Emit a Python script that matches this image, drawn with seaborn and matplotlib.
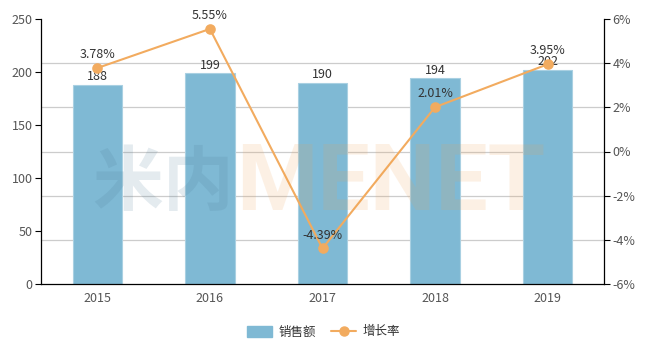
import numpy as np
import pandas as pd
import matplotlib
matplotlib.use("Agg")
import matplotlib.pyplot as plt
import seaborn as sns
from matplotlib.patches import Patch
from matplotlib.lines import Line2D
from matplotlib.ticker import FuncFormatter

years = ["2015", "2016", "2017", "2018", "2019"]
sales = [188, 199, 190, 194, 202]
growth = [3.78, 5.55, -4.39, 2.01, 3.95]
sales_name = "销售额"
growth_name = "增长率"

sns.set_theme(style="white")
plt.rcParams['font.family'] = ['Noto Sans CJK SC', 'DejaVu Sans']

bar_color = "#7fb9d4"
line_color = "#f2ab5f"
text_color = "#333333"
tick_color = "#555555"

df = pd.DataFrame({"year": years, "sales": sales, "growth": growth})

fig = plt.figure(figsize=(6.47, 3.45), dpi=100)
ax = fig.add_axes([41/647, 61/345, 563/647, 265/345])

sns.barplot(data=df, x="year", y="sales", color=bar_color, width=0.44,
            saturation=1, edgecolor="#a9d0e2", linewidth=0.8, ax=ax)
ax.set_xlim(-0.5, 4.5)
ax.set_ylim(0, 250)
ax.set_yticks(np.arange(0, 251, 50))
ax.set_yticks(np.linspace(0, 250, 7), minor=True)
ax.grid(False)
ax.grid(which='minor', axis='y', color='#cccccc', linewidth=0.9)
ax.set_axisbelow(True)
ax.set_xlabel("")
ax.set_ylabel("")
ax.set_xticks(np.arange(-0.5, 5, 1.0), minor=True)
ax.tick_params(axis='x', which='major', length=0, labelsize=9, labelcolor=tick_color, pad=6)
ax.tick_params(axis='x', which='minor', length=4, color='black', width=0.8, direction='out')
ax.tick_params(axis='y', which='major', length=4, color='black', width=0.8, direction='out',
               labelsize=9, labelcolor=tick_color, pad=2, left=True)
ax.tick_params(axis='y', which='minor', length=0)
for s in ["top", "right"]:
    ax.spines[s].set_visible(False)
for s in ["left", "bottom"]:
    ax.spines[s].set_color("black")
    ax.spines[s].set_linewidth(0.9)

for c in ax.containers:
    ax.bar_label(c, labels=[str(v) for v in sales], padding=1, fontsize=9, color=text_color)

ax2 = ax.twinx()
sns.pointplot(data=df, x="year", y="growth", color=line_color, markers='o',
              markersize=6.5, linewidth=1.5, ax=ax2)
ax2.set_ylim(-6, 6)
ax2.set_yticks(np.arange(-6, 7, 2))
ax2.yaxis.set_major_formatter(FuncFormatter(lambda v, p: f"{int(v)}%"))
ax2.set_xlim(-0.5, 4.5)
ax2.set_ylabel("")
ax2.grid(False)
ax2.tick_params(axis='y', length=4, color='black', width=0.8, direction='out',
                labelsize=9, labelcolor=tick_color, pad=2, right=True)
for s in ["top", "left", "bottom"]:
    ax2.spines[s].set_visible(False)
ax2.spines["right"].set_color("black")
ax2.spines["right"].set_linewidth(0.9)

for i, g in enumerate(growth):
    ax2.annotate(f"{g:.2f}%", (i, g), xytext=(0, 5), textcoords="offset points",
                 ha="center", va="bottom", fontsize=9, color=text_color)

# watermark
fig.text(234/647, (345-205)/345, "米内", fontsize=51, fontweight="heavy",
         color="#4a7a96", alpha=0.15, ha="right", va="baseline",
         family=['Noto Sans CJK SC'])
fig.text(236/647, (345-210)/345, "MENET", fontsize=67, fontweight="bold",
         color="#f0a050", alpha=0.15, ha="left", va="baseline",
         family=['Roboto'])

handles = [Patch(facecolor=bar_color, edgecolor=bar_color, label=sales_name),
           Line2D([0], [0], color=line_color, marker='o', markersize=6.5,
                  linewidth=1.5, label=growth_name)]
fig.legend(handles=handles, loc="center", bbox_to_anchor=(0.5, 13/345), ncol=2,
           frameon=False, fontsize=9, handlelength=2.0, handleheight=1.0,
           columnspacing=1.2, handletextpad=0.5, labelcolor=text_color)

fig.savefig("out.png", dpi=100)
